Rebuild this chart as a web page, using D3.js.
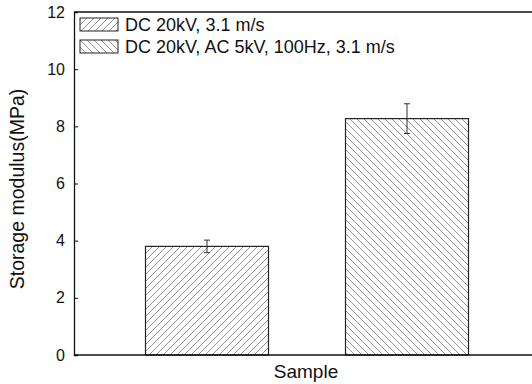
<!DOCTYPE html>
<html><head><meta charset="utf-8">
<script src="https://cdn.jsdelivr.net/npm/d3@7"></script>
<style>body{margin:0;background:#fff}svg{display:block}</style>
</head><body>
<svg id="c" width="532" height="384"></svg>
<script>
const categories = ["DC 20kV, 3.1 m/s", "DC 20kV, AC 5kV, 100Hz, 3.1 m/s"];
const values = [3.8, 8.27];
const errors = [0.22, 0.52];
const yTicks = [0, 2, 4, 6, 8, 10, 12];
const hatchDirs = ["fwd", "back"];

(function () {
const svg = d3.select("#c");
const W = 532, H = 384;
const mLeft = 74, mTop = 12, mBottom = 355, mRight = 540;
const font = "'Liberation Sans', Arial, sans-serif";

const x = d3.scaleBand().domain(categories).range([mLeft, mRight]).paddingInner(0.385).paddingOuter(0.3575);
const y = d3.scaleLinear().domain([0, 12]).range([mBottom, mTop]);

const defs = svg.append("defs");
function hatch(id, dir) {
  const p = defs.append("pattern").attr("id", id).attr("patternUnits", "userSpaceOnUse")
    .attr("width", 7).attr("height", 7);
  if (dir === "fwd") {
    p.append("path").attr("d", "M-2,2 L2,-2 M0,7 L7,0 M5,9 L9,5");
  } else {
    p.append("path").attr("d", "M-2,5 L2,9 M0,0 L7,7 M5,-2 L9,2");
  }
  p.select("path").attr("stroke", "#777").attr("stroke-width", 0.8).attr("fill", "none");
}
hatch("h0", hatchDirs[0]);
hatch("h1", hatchDirs[1]);

svg.selectAll("rect.bar").data(categories).enter().append("rect")
  .attr("class", "bar")
  .attr("x", d => x(d)).attr("width", x.bandwidth())
  .attr("y", (d, i) => y(values[i])).attr("height", (d, i) => y(0) - y(values[i]))
  .attr("fill", (d, i) => `url(#h${i})`).attr("stroke", "#222").attr("stroke-width", 1.2);

const eb = svg.selectAll("g.err").data(categories).enter().append("g").attr("class", "err")
  .attr("stroke", "#333").attr("stroke-width", 1);
const cx = d => x(d) + x.bandwidth() / 2;
eb.append("line").attr("x1", cx).attr("x2", cx)
  .attr("y1", (d, i) => y(values[i] + errors[i])).attr("y2", (d, i) => y(values[i] - errors[i]));
eb.append("line").attr("x1", d => cx(d) - 3).attr("x2", d => cx(d) + 3)
  .attr("y1", (d, i) => y(values[i] + errors[i])).attr("y2", (d, i) => y(values[i] + errors[i]));
eb.append("line").attr("x1", d => cx(d) - 3).attr("x2", d => cx(d) + 3)
  .attr("y1", (d, i) => y(values[i] - errors[i])).attr("y2", (d, i) => y(values[i] - errors[i]));

const yAxis = svg.append("g").attr("transform", `translate(${mLeft},0)`)
  .call(d3.axisLeft(y).tickValues(yTicks).tickSize(-4).tickPadding(9));
yAxis.select(".domain").attr("stroke", "#111").attr("stroke-width", 1.3);
yAxis.selectAll(".tick line").attr("stroke", "#111");
yAxis.selectAll("text").attr("font-family", font).attr("font-size", 16).attr("fill", "#111");

svg.append("line").attr("x1", mLeft).attr("x2", W).attr("y1", mBottom).attr("y2", mBottom)
  .attr("stroke", "#111").attr("stroke-width", 1.3);
svg.append("line").attr("x1", mLeft).attr("x2", W).attr("y1", mTop).attr("y2", mTop)
  .attr("stroke", "#111").attr("stroke-width", 1.3);

svg.append("text").attr("x", 306).attr("y", 378).attr("text-anchor", "middle")
  .attr("font-family", font).attr("font-size", 19).attr("fill", "#111").text("Sample");
svg.append("text").attr("transform", `translate(24,189) rotate(-90)`)
  .attr("text-anchor", "middle").attr("font-family", font).attr("font-size", 19.5).attr("fill", "#111")
  .text("Storage modulus(MPa)");

const lg = svg.selectAll("g.lg").data(categories).enter().append("g").attr("class", "lg")
  .attr("transform", (d, i) => `translate(80,${18 + i * 22})`);
lg.append("rect").attr("width", 38).attr("height", 13)
  .attr("fill", (d, i) => `url(#h${i})`).attr("stroke", "#222").attr("stroke-width", 1);
lg.append("text").attr("x", 45).attr("y", 13).attr("font-family", font).attr("font-size", 18)
  .attr("fill", "#111").text(d => d);
})();
</script>
</body></html>
